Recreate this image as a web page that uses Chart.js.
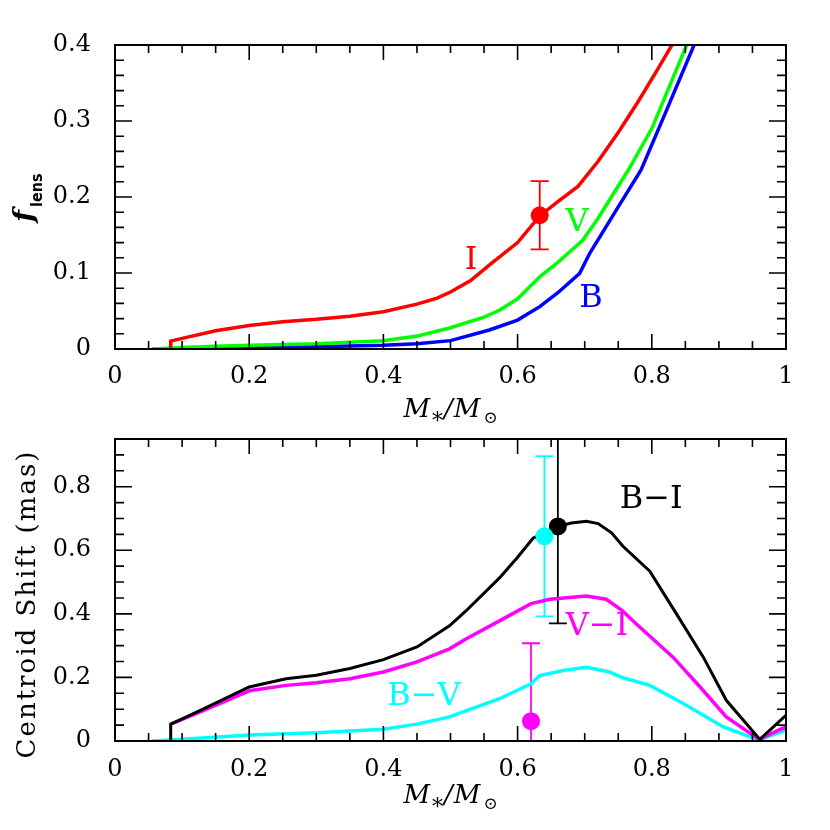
<!DOCTYPE html>
<html>
<head>
<meta charset="utf-8">
<script src="https://cdn.jsdelivr.net/npm/chart.js@4.4.1/dist/chart.umd.min.js"></script>
<style>
  html, body { margin: 0; padding: 0; background: #fff; }
  .panel { position: absolute; left: 0; width: 830px; }
  #top { top: 0; height: 430px; }
  #bottom { top: 430px; height: 400px; }
</style>
</head>
<body>
<div class="panel" id="top"><canvas id="lensChart" width="830" height="430"></canvas></div>
<div class="panel" id="bottom"><canvas id="shiftChart" width="830" height="400"></canvas></div>
<script>
// Top panel: fraction of light from the lens, per band
const massI = [0.083, 0.083, 0.10, 0.15, 0.20, 0.25, 0.30, 0.35, 0.40, 0.45, 0.48, 0.50, 0.53, 0.56, 0.60, 0.633, 0.66, 0.69, 0.72, 0.75, 0.78, 0.81, 0.83];
const fracI = [0, 0.0105, 0.014, 0.024, 0.031, 0.036, 0.039, 0.043, 0.049, 0.059, 0.067, 0.075, 0.090, 0.112, 0.140, 0.175, 0.194, 0.214, 0.247, 0.285, 0.326, 0.370, 0.40];
const massV = [0.055, 0.10, 0.15, 0.20, 0.25, 0.30, 0.35, 0.40, 0.45, 0.50, 0.55, 0.573, 0.60, 0.633, 0.66, 0.697, 0.72, 0.765, 0.80, 0.852];
const fracV = [0, 0.002, 0.0035, 0.005, 0.006, 0.007, 0.009, 0.011, 0.017, 0.028, 0.042, 0.051, 0.066, 0.095, 0.114, 0.143, 0.172, 0.2355, 0.29, 0.40];
const massB = [0.055, 0.10, 0.15, 0.20, 0.30, 0.40, 0.45, 0.50, 0.558, 0.60, 0.633, 0.66, 0.6925, 0.7075, 0.75, 0.784, 0.82, 0.863];
const fracB = [0, 0.0005, 0.001, 0.0015, 0.003, 0.005, 0.007, 0.011, 0.025, 0.038, 0.0557, 0.074, 0.0996, 0.126, 0.187, 0.2355, 0.31, 0.40];

// measured lens flux (I band)
const lensMass = [0.633];
const lensFrac = [0.176];
const lensErr = [0.045];

// Bottom panel: colour-dependent centroid shift
const massBI = [0.083, 0.083, 0.128, 0.20, 0.255, 0.30, 0.35, 0.40, 0.45, 0.4985, 0.523, 0.573, 0.60, 0.623, 0.66, 0.68, 0.7025, 0.72, 0.74, 0.757, 0.797, 0.837, 0.877, 0.911, 0.961, 1.0];
const shiftBI = [0, 0.053, 0.097, 0.17, 0.196, 0.207, 0.228, 0.256, 0.296, 0.3625, 0.409, 0.513, 0.578, 0.638, 0.675, 0.686, 0.691, 0.684, 0.655, 0.6125, 0.534, 0.399, 0.263, 0.128, 0.005, 0.081];
const massVI = [0.083, 0.128, 0.20, 0.255, 0.30, 0.35, 0.40, 0.45, 0.4985, 0.523, 0.573, 0.62, 0.648, 0.7025, 0.732, 0.755, 0.777, 0.832, 0.872, 0.911, 0.96, 1.0];
const shiftVI = [0.053, 0.092, 0.158, 0.175, 0.183, 0.196, 0.217, 0.249, 0.29, 0.321, 0.378, 0.432, 0.446, 0.456, 0.446, 0.412, 0.368, 0.263, 0.17, 0.076, 0.005, 0.045];
const massBV = [0.055, 0.083, 0.20, 0.30, 0.40, 0.45, 0.4985, 0.573, 0.62, 0.633, 0.668, 0.7025, 0.737, 0.757, 0.797, 0.847, 0.906, 0.959, 1.0];
const shiftBV = [0, 0.003, 0.019, 0.026, 0.037, 0.053, 0.076, 0.133, 0.18, 0.206, 0.222, 0.232, 0.217, 0.199, 0.175, 0.118, 0.045, 0.003, 0.034];

// measured shifts: B-I, B-V, V-I
const measMass = [0.66, 0.64, 0.62];
const measShift = [0.675, 0.644, 0.0625];
const measErr = [0.305, 0.252, 0.245];

const SERIF = '"DejaVu Serif", "Liberation Serif", serif';
const toXY = (xs, ys) => xs.map((v, i) => ({ x: v, y: ys[i] }));

function curve(xs, ys, color, width) {
    return {
        data: toXY(xs, ys),
        showLine: true,
        borderColor: color,
        borderWidth: width,
        pointRadius: 0,
        tension: 0,
        clip: 0
    };
}

function dots(xs, ys, colors) {
    return {
        data: toXY(xs, ys),
        showLine: false,
        pointRadius: 9,
        pointHoverRadius: 9,
        pointBackgroundColor: colors,
        pointBorderWidth: 0,
        clip: 0
    };
}

// M_*/M_sun axis title
function drawMassTitle(ctx, cx, base) {
    const parts = [
        { t: 'M', f: 'italic 26px ' + SERIF, dy: 0, gap: 2 },
        { t: '*', f: '22px ' + SERIF, dy: 11, gap: 1 },
        { t: '/', f: 'italic 26px ' + SERIF, dy: 0, gap: 1 },
        { t: 'M', f: 'italic 26px ' + SERIF, dy: 0, gap: 3 },
        { t: '\u2299', f: '17px ' + SERIF, dy: 6, gap: 0 }
    ];
    let total = 0;
    parts.forEach(p => { ctx.font = p.f; p.w = ctx.measureText(p.t).width; total += p.w + p.gap; });
    let px = cx - total / 2;
    ctx.textAlign = 'left';
    ctx.textBaseline = 'alphabetic';
    parts.forEach(p => {
        ctx.font = p.f;
        ctx.fillText(p.t, px, base + p.dy);
        px += p.w + p.gap;
    });
}

const panelDecor = {
    id: 'panelDecor',
    beforeDatasetsDraw(chart, args, opts) {
        const { ctx, chartArea: a, scales: { x, y } } = chart;
        ctx.save();
        ctx.beginPath();
        ctx.rect(a.left, a.top, a.right - a.left, a.bottom - a.top);
        ctx.clip();
        ctx.lineWidth = 1.8;
        opts.bars.forEach(b => {
            const px = x.getPixelForValue(b.x);
            const lo = y.getPixelForValue(b.y - b.err);
            const hi = y.getPixelForValue(b.y + b.err);
            ctx.strokeStyle = b.color;
            ctx.beginPath();
            ctx.moveTo(px, lo); ctx.lineTo(px, hi);
            ctx.moveTo(px - 9, lo); ctx.lineTo(px + 9, lo);
            ctx.moveTo(px - 9, hi); ctx.lineTo(px + 9, hi);
            ctx.stroke();
        });
        ctx.restore();
    },
    afterDatasetsDraw(chart, args, opts) {
        const { ctx, chartArea: a, scales: { x, y } } = chart;
        ctx.save();

        // frame with inward ticks on all sides
        ctx.strokeStyle = '#000';
        ctx.lineWidth = 2;
        ctx.strokeRect(a.left, a.top, a.right - a.left, a.bottom - a.top);
        ctx.lineWidth = 1.6;
        ctx.beginPath();
        const nx = Math.round((x.max - x.min) / opts.xMinor);
        const rx = Math.round(opts.xMajor / opts.xMinor);
        for (let i = 1; i < nx; i++) {
            const px = x.getPixelForValue(x.min + i * opts.xMinor);
            const len = i % rx === 0 ? 15 : 8;
            ctx.moveTo(px, a.bottom); ctx.lineTo(px, a.bottom - len);
            ctx.moveTo(px, a.top); ctx.lineTo(px, a.top + len);
        }
        const ny = Math.round((y.max - y.min) / opts.yMinor);
        const ry = Math.round(opts.yMajor / opts.yMinor);
        for (let i = 1; i <= ny; i++) {
            const py = y.getPixelForValue(y.min + i * opts.yMinor);
            const len = i % ry === 0 ? 17 : 9;
            ctx.moveTo(a.left, py); ctx.lineTo(a.left + len, py);
            ctx.moveTo(a.right, py); ctx.lineTo(a.right - len, py);
        }
        ctx.stroke();

        // curve names
        ctx.textAlign = 'center';
        ctx.textBaseline = 'middle';
        ctx.font = '32px ' + SERIF;
        opts.labels.forEach(l => {
            ctx.fillStyle = l.color;
            ctx.fillText(l.text, x.getPixelForValue(l.x), y.getPixelForValue(l.y));
        });

        // axis titles
        ctx.fillStyle = '#000';
        drawMassTitle(ctx, (a.left + a.right) / 2, a.bottom + opts.titleGap);
        opts.yTitle(ctx, a);
        ctx.restore();
    }
};

function axes(ymax, ystep, xHeight, xPad) {
    const tickFont = { family: SERIF, size: 24 };
    return {
        x: {
            type: 'linear', min: 0, max: 1,
            afterFit: s => { s.height = xHeight; },
            ticks: { stepSize: 0.2, padding: xPad, font: tickFont, color: '#000', maxRotation: 0, includeBounds: false,
                callback: v => String(+v.toFixed(2)) },
            grid: { display: false },
            border: { display: false }
        },
        y: {
            type: 'linear', min: 0, max: ymax,
            // fixed width, and no extra room for the half-height of the end labels
            afterFit: s => { s.width = 115; s.paddingTop = 0; s.paddingBottom = 0; },
            ticks: { stepSize: ystep, padding: 16, font: tickFont, color: '#000', includeBounds: false,
                callback: v => String(+v.toFixed(2)) },
            grid: { display: false },
            border: { display: false }
        }
    };
}

const baseOpts = {
    responsive: false,
    animation: false,
    devicePixelRatio: 1,
    events: []
};

new Chart(document.getElementById('lensChart'), {
    type: 'scatter',
    data: {
        datasets: [
            dots(lensMass, lensFrac, ['#ff0000']),
            curve(massI, fracI, '#ff0000', 3.5),
            curve(massV, fracV, '#00ff00', 3.5),
            curve(massB, fracB, '#0000ff', 3.5)
        ]
    },
    options: {
        ...baseOpts,
        layout: { padding: { left: 0, right: 44, top: 45, bottom: 0 } },
        scales: axes(0.4, 0.1, 81, 5),
        plugins: {
            legend: { display: false },
            tooltip: { enabled: false },
            panelDecor: {
                xMinor: 0.05, xMajor: 0.2, yMinor: 0.02, yMajor: 0.1,
                titleGap: 68,
                bars: lensMass.map((m, i) => ({ x: m, y: lensFrac[i], err: lensErr[i], color: '#ff0000' })),
                labels: [
                    { text: 'I', x: 0.5306, y: 0.1158, color: '#ff0000' },
                    { text: 'V', x: 0.6885, y: 0.1658, color: '#00ff00' },
                    { text: 'B', x: 0.7094, y: 0.0658, color: '#0000ff' }
                ],
                yTitle: (ctx, a) => {
                    ctx.save();
                    ctx.translate(33, 222);
                    ctx.rotate(-Math.PI / 2);
                    ctx.textAlign = 'left';
                    ctx.textBaseline = 'alphabetic';
                    ctx.font = 'bold italic 28px ' + SERIF;
                    ctx.fillText('f', 0, 0);
                    const w = ctx.measureText('f').width;
                    ctx.font = 'bold 16px "DejaVu Sans Condensed", "DejaVu Sans", sans-serif';
                    ctx.fillText('lens', w + 3, 9);
                    ctx.restore();
                }
            }
        }
    },
    plugins: [panelDecor]
});

new Chart(document.getElementById('shiftChart'), {
    type: 'scatter',
    data: {
        datasets: [
            dots(measMass, measShift, ['#000000', '#00ffff', '#ff00ff']),
            curve(massBI, shiftBI, '#000000', 3),
            curve(massVI, shiftVI, '#ff00ff', 3.5),
            curve(massBV, shiftBV, '#00ffff', 3.5)
        ]
    },
    options: {
        ...baseOpts,
        layout: { padding: { left: 0, right: 44, top: 7, bottom: 0 } },
        scales: axes(0.95, 0.2, 89, 6),
        plugins: {
            legend: { display: false },
            tooltip: { enabled: false },
            panelDecor: {
                xMinor: 0.05, xMajor: 0.2, yMinor: 0.05, yMajor: 0.2,
                titleGap: 62,
                bars: measMass.map((m, i) => ({ x: m, y: measShift[i], err: measErr[i],
                    color: ['#000000', '#00ffff', '#ff00ff'][i] })),
                labels: [
                    { text: 'B\u2212I', x: 0.799, y: 0.7586, color: '#000000' },
                    { text: 'V\u2212I', x: 0.7183, y: 0.3605, color: '#ff00ff' },
                    { text: 'B\u2212V', x: 0.4605, y: 0.138, color: '#00ffff' }
                ],
                yTitle: (ctx, a) => {
                    ctx.save();
                    ctx.translate(28, 604 - 430);
                    ctx.rotate(-Math.PI / 2);
                    ctx.textAlign = 'center';
                    ctx.textBaseline = 'middle';
                    ctx.font = '26px ' + SERIF;
                    ctx.letterSpacing = '2px';
                    ctx.fillText('Centroid Shift (mas)', 0, 0);
                    ctx.restore();
                }
            }
        }
    },
    plugins: [panelDecor]
});
</script>
</body>
</html>
